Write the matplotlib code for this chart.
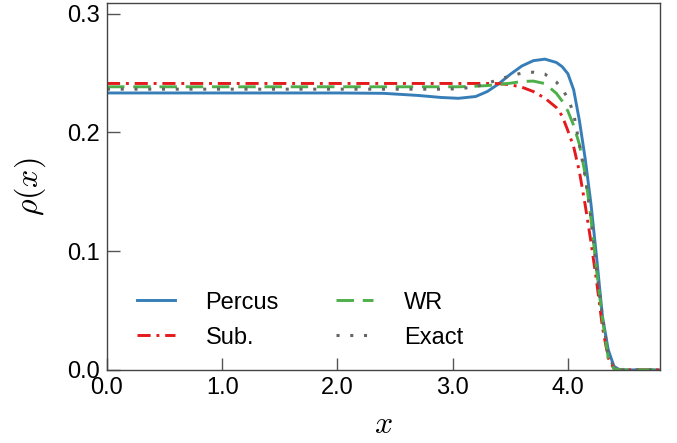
import matplotlib
matplotlib.use("Agg")
import matplotlib.pyplot as plt

plt.rcParams['font.family'] = ['Liberation Sans', 'DejaVu Sans']
plt.rcParams['mathtext.fontset'] = 'cm'

# datos
x = [0.0, 0.5, 1.0, 1.5, 2.0, 2.4, 2.7, 2.9, 3.05, 3.2, 3.3, 3.4, 3.5, 3.6, 3.7,
     3.8, 3.9, 3.95, 4.0, 4.05, 4.1, 4.15, 4.2, 4.25, 4.3, 4.35, 4.4, 4.45, 4.8]

percus = [0.2333, 0.2333, 0.2333, 0.2333, 0.2333, 0.2330, 0.2312, 0.2295, 0.2288,
          0.2303, 0.2345, 0.2410, 0.2490, 0.2560, 0.2605, 0.2618, 0.2590, 0.2555,
          0.2495, 0.2360, 0.2100, 0.1780, 0.1400, 0.0940, 0.0450, 0.0170, 0.0030,
          0.0, 0.0]
sub = [0.2413, 0.2413, 0.2413, 0.2413, 0.2413, 0.2413, 0.2413, 0.2413, 0.2413,
       0.2413, 0.2413, 0.2412, 0.2402, 0.2382, 0.2345, 0.2290, 0.2210, 0.2140,
       0.2015, 0.1880, 0.1670, 0.1390, 0.1080, 0.0740, 0.0360, 0.0100, 0.0010,
       0.0, 0.0]
wr = [0.2385, 0.2385, 0.2385, 0.2385, 0.2385, 0.2385, 0.2385, 0.2385, 0.2385,
      0.2390, 0.2395, 0.2405, 0.2415, 0.2430, 0.2433, 0.2412, 0.2330, 0.2265,
      0.2180, 0.2060, 0.1900, 0.1650, 0.1280, 0.0830, 0.0430, 0.0100, 0.0010,
      0.0, 0.0]
exact = [0.2365, 0.2365, 0.2365, 0.2365, 0.2365, 0.2365, 0.2365, 0.2365, 0.2368,
         0.2385, 0.2415, 0.2445, 0.2478, 0.2500, 0.2508, 0.2492, 0.2425, 0.2365,
         0.2290, 0.2160, 0.1900, 0.1630, 0.1280, 0.0830, 0.0450, 0.0130, 0.0020,
         0.0, 0.0]

fig = plt.figure(figsize=(6.77, 4.43), dpi=100)
ax = fig.add_axes([0.158, 0.165, 0.817, 0.828])

ax.plot(x, percus, color='#377eb8', lw=2.1, label='Percus')
ax.plot(x, sub, color='#e41a1c', lw=2.1, dashes=(4.5, 2, 1, 2), label='Sub.')
ax.plot(x, wr, color='#4daf4a', lw=2.1, dashes=(6, 3), label='WR')
ax.plot(x, exact, color='#666666', lw=2.2, dashes=(1, 3.5), label='Exact')

ax.set_xlim(0, 4.8)
ax.set_ylim(0, 0.309)
ax.set_xticks([0, 1, 2, 3, 4])
ax.set_xticklabels(['0.0', '1.0', '2.0', '3.0', '4.0'])
ax.set_yticks([0, 0.1, 0.2, 0.3])
ax.set_yticklabels(['0.0', '0.1', '0.2', '0.3'])
ax.tick_params(direction='in', length=9, width=1, labelsize=17, color='#555555',
               pad=5)
for s in ax.spines.values():
    s.set_color('#444444')
    s.set_linewidth(1)

ax.set_xlabel(r'$x$', fontsize=23, labelpad=8)
ax.set_ylabel(r'$\rho(x)$', fontsize=23, labelpad=14)

ax.legend(ncol=2, frameon=False, loc='lower left', bbox_to_anchor=(0.016, 0.0),
          fontsize=17, handlelength=1.6, handletextpad=1.3, columnspacing=2.4,
          labelspacing=0.55)

fig.savefig('out.png', dpi=100)
